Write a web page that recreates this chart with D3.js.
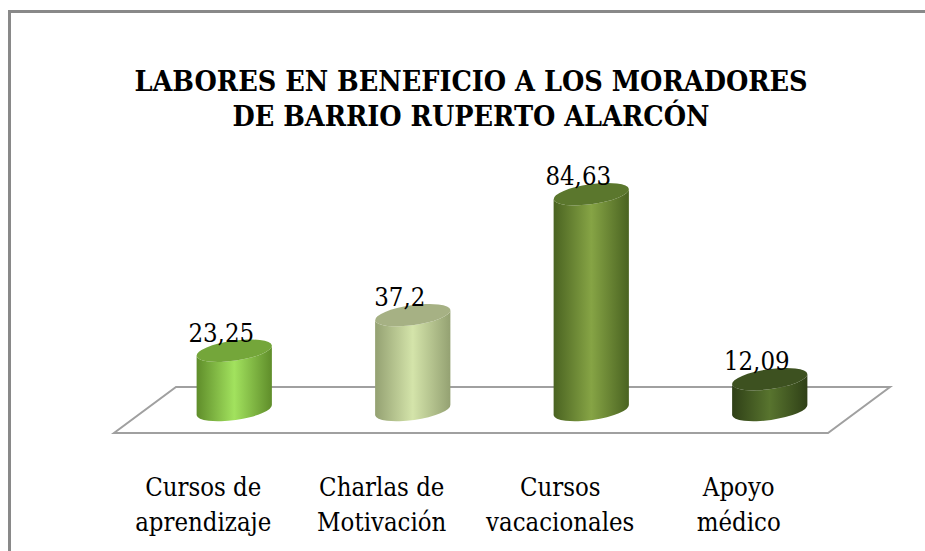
<!DOCTYPE html>
<html>
<head>
<meta charset="utf-8">
<script src="https://cdn.jsdelivr.net/npm/d3@7"></script>
<style>
    html, body {margin: 0; padding: 0; background: #fff; overflow: hidden;}
    svg {display: block;}
</style>
</head>
<body>
<svg id="chart" width="925" height="551"></svg>
<script>
(function () {
    // datos
    var categorias = [["Cursos de", "aprendizaje"], ["Charlas de", "Motivación"], ["Cursos", "vacacionales"], ["Apoyo", "médico"]],
        valores = [23.25, 37.2, 84.63, 12.09],
        etiquetas = ["23,25", "37,2", "84,63", "12,09"],
        titulo = ["LABORES EN BENEFICIO A LOS MORADORES", "DE BARRIO RUPERTO ALARCÓN"],
        // colores: borde oscuro, centro claro, tapa
        colores = [
            {edge: "#5f8d2a", mid: "#a2e25e", top: "#74a63a"},
            {edge: "#94a172", mid: "#d4e4aa", top: "#a6b184"},
            {edge: "#4a6321", mid: "#86a445", top: "#5b772d"},
            {edge: "#2f4017", mid: "#58742e", top: "#3d5120"}
        ];

    var fuente = "'DejaVu Serif Condensed', 'DejaVu Serif', serif",
        info = {front_y: 433, back_y: 387, x0: 114, x1: 828, dx: 62, base: 410, rx: 38, ry: 10, rot: -8};

    var svg = d3.select("#chart");

    // marco: solo borde izquierdo y superior
    svg.append("line").attr("x1", 9.5).attr("y1", 10).attr("x2", 9.5).attr("y2", 551)
        .attr("stroke", "#898989").attr("stroke-width", 3);
    svg.append("line").attr("x1", 8).attr("y1", 11.5).attr("x2", 925).attr("y2", 11.5)
        .attr("stroke", "#898989").attr("stroke-width", 3);

    // título
    svg.append("g").selectAll("text").data(titulo).enter().append("text")
        .attr("x", 471).attr("y", function (d, i) {return 91 + i * 35})
        .attr("text-anchor", "middle").style("font-family", fuente).style("font-stretch", "condensed")
        .style("font-size", "28.5px").style("font-weight", "bold")
        .text(function (d) {return d});

    // escalas
    var x = d3.scaleBand().domain(d3.range(valores.length)).range([info.x0, info.x1]),
        y = d3.scaleLinear().domain([0, 100]).range([info.base, 155]);

    // piso en perspectiva
    var piso = [[info.x0, info.front_y], [info.x1, info.front_y], [info.x1 + info.dx, info.back_y], [info.x0 + info.dx, info.back_y]];
    svg.append("path").attr("d", d3.line()(piso) + "Z")
        .attr("fill", "#fff").attr("stroke", "#a0a0a0").attr("stroke-width", 2);

    // gradientes
    var defs = svg.append("defs");
    colores.forEach(function (c, i) {
        var g = defs.append("linearGradient").attr("id", "cyl" + i).attr("x1", "0").attr("x2", "1").attr("y1", "0").attr("y2", "0");
        g.append("stop").attr("offset", "0").attr("stop-color", c.edge);
        g.append("stop").attr("offset", "0.5").attr("stop-color", c.mid);
        g.append("stop").attr("offset", "1").attr("stop-color", c.edge);
    });

    var rad = info.rot * Math.PI / 180,
        ex = info.rx * Math.cos(rad),
        ey = info.rx * Math.sin(rad);

    function cx(i) {return x(i) + x.bandwidth() / 2 + info.dx / 2}

    function cuerpo(i, v) {
        var c = cx(i), yb = y(0), yt = y(v);
        return "M" + (c - ex) + "," + (yt - ey) +
            "L" + (c - ex) + "," + (yb - ey) +
            "A" + info.rx + "," + info.ry + " " + info.rot + " 0 0 " + (c + ex) + "," + (yb + ey) +
            "L" + (c + ex) + "," + (yt + ey) +
            "A" + info.rx + "," + info.ry + " " + info.rot + " 0 1 " + (c - ex) + "," + (yt - ey) + "Z";
    }

    var barras = svg.append("g").selectAll("g").data(valores).enter().append("g");

    barras.append("path")
        .attr("d", function (d, i) {return cuerpo(i, d)})
        .attr("fill", function (d, i) {return "url(#cyl" + i + ")"});

    barras.append("ellipse")
        .attr("cx", 0).attr("cy", 0).attr("rx", info.rx).attr("ry", info.ry)
        .attr("transform", function (d, i) {return "translate(" + cx(i) + "," + y(d) + ") rotate(" + info.rot + ")"})
        .attr("fill", function (d, i) {return colores[i].top});

    // etiquetas de valor
    svg.append("g").selectAll("text").data(valores).enter().append("text")
        .attr("x", function (d, i) {return cx(i) - 13})
        .attr("y", function (d) {return y(d) - 9})
        .attr("text-anchor", "middle").style("font-family", fuente).style("font-stretch", "condensed")
        .style("font-size", "25.5px")
        .text(function (d, i) {return etiquetas[i]});

    // categorías
    var cat = svg.append("g").selectAll("text").data(categorias).enter().append("text")
        .attr("text-anchor", "middle").style("font-family", fuente).style("font-stretch", "condensed")
        .style("font-size", "25.5px");
    cat.selectAll("tspan").data(function (d, i) {return d.map(function (t) {return {t: t, i: i}})})
        .enter().append("tspan")
        .attr("x", function (d) {return x(d.i) + x.bandwidth() / 2})
        .attr("y", function (d, j) {return 496 + j * 35})
        .text(function (d) {return d.t});
})();
</script>
</body>
</html>
